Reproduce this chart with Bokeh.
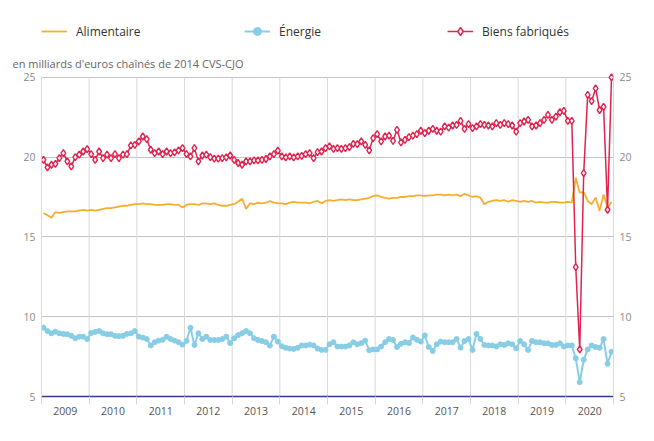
from bokeh.plotting import figure
from bokeh.layouts import column
from bokeh.models import (Range1d, LinearAxis, FixedTicker, Legend, LegendItem,
                          ColumnDataSource, CustomJSTickFormatter)
from bokeh.embed import file_html
from bokeh.resources import INLINE

# ---------------- data ----------------
years = list(range(2009, 2021))
month_index = list(range(12))
y_ticks = [5, 10, 15, 20, 25]
subtitle = "en milliards d'euros chaînés de 2014 CVS-CJO"
series_names = ["Alimentaire", "Énergie", "Biens fabriqués"]

alimentaire = [
    16.5, 16.35, 16.2, 16.55, 16.5, 16.55, 16.6, 16.6, 16.6, 16.65, 16.7, 16.65,
    16.7, 16.65, 16.7, 16.75, 16.8, 16.8, 16.85, 16.9, 16.95, 16.95, 17.0, 17.05,
    17.05, 17.1, 17.05, 17.05, 17.0, 17.0, 17.0, 17.05, 17.05, 17.0, 17.0, 16.85,
    17.0, 17.05, 17.05, 17.0, 17.1, 17.1, 17.05, 17.1, 17.0, 16.95, 16.95, 17.0,
    17.05, 17.2, 17.4, 16.75, 17.1, 17.05, 17.15, 17.1, 17.15, 17.25, 17.15, 17.1,
    17.1, 17.05, 17.15, 17.2, 17.15, 17.15, 17.15, 17.1, 17.2, 17.25, 17.1, 17.25,
    17.3, 17.25, 17.3, 17.35, 17.3, 17.35, 17.3, 17.3, 17.35, 17.4, 17.45, 17.55,
    17.6, 17.5, 17.45, 17.4, 17.45, 17.45, 17.5, 17.5, 17.55, 17.55, 17.6, 17.6,
    17.55, 17.6, 17.6, 17.65, 17.65, 17.6, 17.65, 17.6, 17.65, 17.55, 17.7, 17.6,
    17.5, 17.55, 17.45, 17.05, 17.2, 17.25, 17.3, 17.25, 17.3, 17.2, 17.3, 17.25,
    17.2, 17.25, 17.2, 17.25, 17.15, 17.2, 17.15, 17.15, 17.2, 17.2, 17.15, 17.15,
    17.19, 17.15, 18.7, 17.77, 17.8, 17.25, 17.05, 17.46, 16.63, 17.66, 16.84, 17.19,
]

energie = [
    9.31, 9.1, 8.96, 9.06, 8.96, 8.92, 8.9, 8.81, 8.65, 8.75, 8.75, 8.6,
    8.98, 9.05, 9.1, 8.96, 8.9, 8.9, 8.8, 8.78, 8.8, 8.92, 8.96, 9.1,
    8.75, 8.69, 8.6, 8.2, 8.4, 8.5, 8.55, 8.75, 8.6, 8.5, 8.4, 8.25,
    8.48, 9.31, 8.23, 8.96, 8.6, 8.75, 8.54, 8.54, 8.54, 8.6, 8.75, 8.35,
    8.65, 8.85, 8.96, 9.1, 8.96, 8.65, 8.54, 8.48, 8.4, 8.19, 8.75, 8.44,
    8.15, 8.05, 8.0, 7.98, 8.05, 8.2, 8.2, 8.25, 8.2, 8.0, 7.92, 7.92,
    8.27, 8.4, 8.13, 8.13, 8.13, 8.2, 8.4, 8.27, 8.35, 8.5, 7.9, 7.95,
    7.95, 8.13, 8.4, 8.6, 8.54, 8.1, 8.3, 8.4, 8.35, 8.7, 8.55, 8.44,
    8.83, 8.1, 7.85, 8.27, 8.44, 8.4, 8.4, 8.4, 8.6, 8.06, 8.48, 8.6,
    7.92, 8.92, 8.6, 8.23, 8.2, 8.2, 8.13, 8.27, 8.23, 8.33, 8.27, 8.02,
    8.48, 8.27, 7.92, 8.48, 8.4, 8.4, 8.33, 8.33, 8.23, 8.23, 8.33, 8.13,
    8.2, 8.2, 7.4, 5.9, 7.3, 7.95, 8.2, 8.1, 8.05, 8.6, 7.05, 7.8,
]

biens_fabriques = [
    19.83, 19.35, 19.52, 19.58, 19.94, 20.25, 19.73, 19.42, 20.0, 20.15, 20.35, 20.5,
    20.19, 19.83, 20.35, 19.94, 20.15, 19.94, 20.19, 19.94, 20.15, 20.19, 20.73, 20.77,
    20.98, 21.29, 21.12, 20.46, 20.25, 20.35, 20.19, 20.35, 20.25, 20.29, 20.42, 20.56,
    20.19, 20.04, 20.56, 19.73, 20.1, 20.15, 20.0, 19.9, 19.9, 19.94, 19.98, 20.1,
    19.83, 19.63, 19.52, 19.73, 19.73, 19.79, 19.79, 19.83, 19.88, 20.04, 20.19, 20.4,
    20.04, 19.98, 20.04, 19.98, 20.04, 20.08, 20.19, 20.25, 19.94, 20.31, 20.35, 20.56,
    20.67, 20.52, 20.56, 20.52, 20.56, 20.63, 20.83, 20.81, 20.98, 20.77, 20.42, 21.19,
    21.44, 20.98, 21.29, 21.35, 21.02, 21.71, 20.92, 21.08, 21.25, 21.35, 21.44, 21.65,
    21.5, 21.65, 21.77, 21.65, 21.6, 21.92, 21.85, 21.98, 22.02, 22.27, 21.77, 22.06,
    21.81, 21.92, 22.06, 22.02, 21.98, 21.92, 22.13, 22.02, 22.13, 22.06, 21.98, 21.6,
    22.13, 22.23, 22.33, 21.92, 21.98, 22.13, 22.33, 22.65, 22.33, 22.54, 22.81, 22.9,
    22.27, 22.27, 13.1, 7.95, 19.0, 23.9, 23.5, 24.3, 22.95, 23.15, 16.7, 25.0,
]

# time coordinate: mid-month as fractional year
x = [yr + (m + 0.5) / 12 for yr in years for m in month_index]
src = ColumnDataSource(dict(x=x, ali=alimentaire, ene=energie, bie=biens_fabriques))
boundaries = years + [years[-1] + 1]

# ---------------- styles ----------------
FONT = "Open Sans"
C_ALI = "#f7ae2f"
C_ENE = "#88cde6"
C_BIE = "#e0234f"
GRID_H = "#c4c4c4"
GRID_V = "#d9d9d9"

# ================= legend strip (own small figure) =================
# The series are drawn here too, but outside this strip's ranges, so only
# their legend samples show.
top = figure(width=638, height=45, output_backend="svg", toolbar_location=None,
             x_range=Range1d(0, 1), y_range=Range1d(0, 1),
             x_axis_location=None, y_axis_location=None, min_border=0,
             title=None)
top.outline_line_color = None
top.grid.visible = False
l_ali = top.line("x", "ali", source=src, color=C_ALI, line_width=1.8)
l_ene = top.line("x", "ene", source=src, color=C_ENE, line_width=2)
m_ene = top.scatter("x", "ene", source=src, marker="circle", size=5,
                    fill_color=C_ENE, line_color=C_ENE)
l_bie = top.line("x", "bie", source=src, color=C_BIE, line_width=1.5)
m_bie = top.scatter("x", "bie", source=src, marker="diamond", size=7,
                    fill_color="white", line_color=C_BIE, line_width=1.4)
legend = Legend(items=[
    LegendItem(label=series_names[0], renderers=[l_ali]),
    LegendItem(label=series_names[1], renderers=[l_ene, m_ene]),
    LegendItem(label=series_names[2], renderers=[l_bie, m_bie]),
], orientation="horizontal", location=(0, 4), padding=0, margin=0,
    spacing=18, glyph_width=26, glyph_height=20, label_height=20,
    label_standoff=9, label_width=150, border_line_alpha=0,
    background_fill_alpha=0, label_text_font=FONT,
    label_text_font_size="12px", label_text_color="#333333")
top.add_layout(legend, "center")

# ================= main chart =================
p = figure(width=638, height=380, output_backend="svg", toolbar_location=None,
           x_range=Range1d(boundaries[0], boundaries[-1]),
           y_range=Range1d(y_ticks[0], y_ticks[-1] + 0.3),
           min_border_left=41, min_border_right=25, min_border_top=27,
           min_border_bottom=29, title=subtitle)
p.outline_line_color = None
p.background_fill_color = "white"
p.border_fill_color = "white"

p.title.text_font = FONT
p.title.text_font_size = "11px"
p.title.text_font_style = "normal"
p.title.text_color = "#666666"
p.title.align = "left"
p.title.offset = -29
p.title.standoff = 3

# x axis: labels centred in yearly bands, ticks at band boundaries
xt = FixedTicker(ticks=[yr + 0.5 for yr in years], minor_ticks=boundaries)
xa = p.xaxis[0]
xa.ticker = xt
xa.formatter = CustomJSTickFormatter(code="return Math.floor(tick).toString()")
xa.major_tick_out = 0
xa.major_tick_in = 0
xa.minor_tick_in = 0
xa.minor_tick_out = 8
xa.minor_tick_line_color = GRID_V
xa.axis_line_color = "#3a3a8c"
xa.axis_line_width = 1.5
xa.major_label_text_font = FONT
xa.major_label_text_font_size = "10.5px"
xa.major_label_text_color = "#555555"
xa.major_label_standoff = 2
p.xgrid.visible = False

# vertical year separators inside the plot (from bottom tick to top tick)
p.segment(x0=boundaries, y0=[y_ticks[0]] * len(boundaries),
          x1=boundaries, y1=[y_ticks[-1]] * len(boundaries),
          line_color=GRID_V, line_width=1)

# y axes left & right
yt = FixedTicker(ticks=y_ticks)
ya = p.yaxis[0]
ya.ticker = yt
ya.bounds = (y_ticks[0], y_ticks[-1])
ya.major_tick_out = 0
ya.major_tick_in = 0
ya.minor_tick_out = 0
ya.minor_tick_in = 0
ya.axis_line_color = GRID_V
ya.major_label_text_font = FONT
ya.major_label_text_font_size = "10.5px"
ya.major_label_text_color = "#8a8a8a"
ya.major_label_standoff = 6

ra = LinearAxis(ticker=yt, bounds=(y_ticks[0], y_ticks[-1]), major_tick_out=0,
                major_tick_in=0, minor_tick_out=0, minor_tick_in=0,
                axis_line_color=GRID_V, major_label_text_font=FONT,
                major_label_text_font_size="10.5px",
                major_label_text_color="#8a8a8a", major_label_standoff=6)
p.add_layout(ra, "right")

yg = p.ygrid[0]
yg.ticker = yt
yg.grid_line_color = GRID_H

# ---------------- series ----------------
p.line("x", "ali", source=src, color=C_ALI, line_width=1.8)
p.line("x", "ene", source=src, color=C_ENE, line_width=2)
p.scatter("x", "ene", source=src, marker="circle", size=5,
          fill_color=C_ENE, line_color=C_ENE)
p.line("x", "bie", source=src, color=C_BIE, line_width=1.5)
p.scatter("x", "bie", source=src, marker="diamond", size=7,
          fill_color="white", line_color=C_BIE, line_width=1.4)

layout = column(top, p, spacing=0)
open("out.html", "w").write(file_html(layout, INLINE))
